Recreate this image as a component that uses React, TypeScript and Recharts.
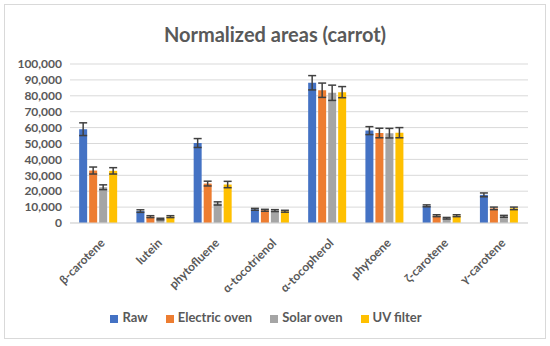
import React from 'react';
import { BarChart, Bar, XAxis, YAxis, CartesianGrid, Legend, ErrorBar } from 'recharts';

const categories = ['β-carotene', 'lutein', 'phytofluene', 'α-tocotrienol', 'α-tocopherol', 'phytoene', 'ζ-carotene', 'γ-carotene'];

const raw = [59000, 7500, 50300, 8600, 88200, 58100, 10800, 17700];
const rawErr = [4000, 800, 2800, 600, 4500, 2500, 600, 1200];

const electric = [33000, 4000, 24800, 8000, 83500, 56600, 4600, 9200];
const electricErr = [2200, 600, 1500, 600, 4500, 3000, 600, 800];

const solar = [22500, 2500, 12300, 7800, 81900, 56500, 3000, 4200];
const solarErr = [1500, 500, 1000, 600, 4800, 3000, 500, 600];

const uv = [32800, 4000, 24200, 7400, 82300, 56800, 4600, 9200];
const uvErr = [2000, 600, 2000, 600, 3500, 3200, 600, 800];

const seriesOrder = ['Raw', 'Electric oven', 'Solar oven', 'UV filter'];

const yTicks = [0, 10000, 20000, 30000, 40000, 50000, 60000, 70000, 80000, 90000, 100000];

const chartData = categories.map((name, i) => ({
  name,
  Raw: raw[i],
  rawErr: rawErr[i],
  'Electric oven': electric[i],
  electricErr: electricErr[i],
  'Solar oven': solar[i],
  solarErr: solarErr[i],
  'UV filter': uv[i],
  uvErr: uvErr[i],
}));

const font = 'Lato, "Open Sans", sans-serif';
const textColor = '#595959';
const errColor = '#404040';

const AngledTick = (props: any) => {
  const { x, y, payload } = props;
  return (
    <g transform={`translate(${x + 4},${y + 10})`}>
      <text transform="rotate(-45)" textAnchor="end" fill={textColor} fontSize={12} fontWeight="bold" fontFamily={font} dy={4}>
        {payload.value}
      </text>
    </g>
  );
};

export default function App() {
  return (
    <div style={{ position: 'absolute', left: 0, top: 0, width: 550, height: 346, background: '#fff' }}>
      <div
        style={{
          position: 'absolute',
          left: 4,
          top: 4,
          width: 540,
          height: 333,
          border: '1px solid #d9d9d9',
        }}
      />
      <div
        style={{
          position: 'absolute',
          top: 22,
          left: 0,
          width: 550,
          textAlign: 'center',
          fontFamily: font,
          fontWeight: 'bold',
          fontSize: 20,
          color: textColor,
        }}
      >
        Normalized areas (carrot)
      </div>
      <div style={{ position: 'absolute', left: 0, top: 0 }}>
        <BarChart
          width={550}
          height={346}
          data={chartData}
          margin={{ top: 64, right: 22, bottom: 0, left: 10 }}
          barCategoryGap="16%"
          barGap={2}
        >
          <CartesianGrid vertical={false} stroke="#d9d9d9" />
          <XAxis
            dataKey="name"
            height={123}
            interval={0}
            tickLine={false}
            axisLine={{ stroke: '#d9d9d9' }}
            tick={<AngledTick />}
          />
          <YAxis
            width={60}
            domain={[0, 100000]}
            ticks={yTicks}
            interval={0}
            axisLine={false}
            tickLine={false}
            tickFormatter={(v: number) => v.toLocaleString('en-US')}
            tick={{ fontSize: 12, fill: textColor, fontFamily: font, fontWeight: 'bold' }}
          />
          <Legend
            layout="horizontal"
            verticalAlign="middle"
            align="center"
            iconType="square"
            iconSize={8}
            itemSorter={(item: any) => seriesOrder.indexOf(item.value)}
            wrapperStyle={{ top: 309, left: 0, width: 550, fontFamily: font, fontSize: 13, fontWeight: 'bold' }}
            formatter={(value: string) => <span style={{ color: textColor, marginRight: 8 }}>{value}</span>}
          />
          <Bar dataKey="Raw" fill="#4472C4" isAnimationActive={false}>
            <ErrorBar dataKey="rawErr" width={4} stroke={errColor} strokeWidth={1.5} direction="y" />
          </Bar>
          <Bar dataKey="Electric oven" fill="#ED7D31" isAnimationActive={false}>
            <ErrorBar dataKey="electricErr" width={4} stroke={errColor} strokeWidth={1.5} direction="y" />
          </Bar>
          <Bar dataKey="Solar oven" fill="#A5A5A5" isAnimationActive={false}>
            <ErrorBar dataKey="solarErr" width={4} stroke={errColor} strokeWidth={1.5} direction="y" />
          </Bar>
          <Bar dataKey="UV filter" fill="#FFC000" isAnimationActive={false}>
            <ErrorBar dataKey="uvErr" width={4} stroke={errColor} strokeWidth={1.5} direction="y" />
          </Bar>
        </BarChart>
      </div>
    </div>
  );
}
